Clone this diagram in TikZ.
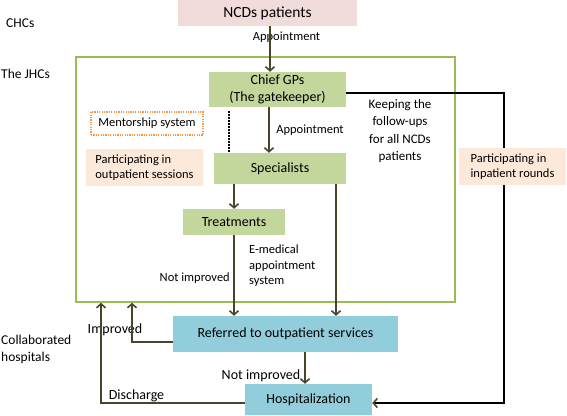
\documentclass[tikz,border=0pt]{standalone}
\usepackage{fontspec}
\setmainfont{Carlito}
\usetikzlibrary{positioning,arrows.meta}
\definecolor{gpgreen}{HTML}{C3D69B}
\definecolor{framegreen}{HTML}{9BBB59}
\definecolor{hospblue}{HTML}{92CDDC}
\definecolor{ncdpink}{HTML}{F2DCDB}
\definecolor{partpeach}{HTML}{FDE9D9}
\definecolor{mentorange}{HTML}{F79646}
\definecolor{arrowc}{HTML}{4A452A}

\begin{document}
\begin{tikzpicture}[x=1pt,y=-1pt,
  every node/.style={inner sep=0pt},
  gpbox/.style={fill=gpgreen,align=center,font=\fontsize{14}{17}\selectfont},
  hospbox/.style={fill=hospblue,align=center,font=\fontsize{14}{17}\selectfont},
  ncdbox/.style={fill=ncdpink,font=\fontsize{15.5}{18}\selectfont},
  partbox/.style={fill=partpeach,align=left,font=\fontsize{12.5}{15.5}\selectfont},
  mentbox/.style={draw=mentorange,line width=1.2pt,dash pattern=on 1.2pt off 1.2pt,font=\fontsize{12.5}{15.5}\selectfont},
  frame/.style={draw=framegreen,line width=1.5pt},
  lab/.style={font=\fontsize{12.5}{15.5}\selectfont},
  lablow/.style={font=\fontsize{14}{17}\selectfont},
  side/.style={font=\fontsize{13.5}{17}\selectfont},
  arr/.style={draw=arrowc,line width=1.6pt,-{Straight Barb[length=4pt,width=9pt]}},
  blk/.style={draw=black,line width=1.6pt,-{Straight Barb[length=4pt,width=9pt,color=arrowc]}}]
\useasboundingbox (0,0) rectangle (567,415);

\node[frame, minimum width=379pt, minimum height=245pt] (jhc) at (265.5,179.5) {};
\node[ncdbox, minimum width=179pt, minimum height=26pt] (ncd) at (267.5,13) {NCDs patients};
\node[gpbox, minimum width=137pt, minimum height=35pt] (gp) at (277.5,89.5) {Chief GPs\\(The gatekeeper)};
\node[gpbox, minimum width=132pt, minimum height=31pt] (spec) at (280,168.5) {Specialists};
\node[gpbox, minimum width=102pt, minimum height=26pt] (treat) at (234,222) {Treatments};
\node[hospbox, minimum width=225pt, minimum height=36pt] (ref) at (285.5,334) {Referred to outpatient services};
\node[hospbox, minimum width=127pt, minimum height=31pt] (hosp) at (308.5,399.5) {Hospitalization};
\node[mentbox, minimum width=112pt, minimum height=23pt] (ment) at (147,123.5) {Mentorship system};
\node[partbox, minimum width=117pt, minimum height=37pt] (outs) at (144.5,167.5) {Participating in\\outpatient sessions};

\node[side, anchor=west] (chc) at (6,23) {CHCs};
\node[side, anchor=west] (jhclab) at (1,74) {The JHCs};
\node[side, anchor=west, align=left] (hosplab) at (1,349) {Collaborated\\hospitals};

\node[lab] (app1) at (286.5,37) {Appointment};
\node[lab] (app2) at (310,130) {Appointment};
\node[lab, align=center, font=\fontsize{13}{17.5}\selectfont] (keep) at (400,131) {Keeping the\\follow-ups\\for all NCDs\\patients};
\node[lab, align=left, anchor=north west] (emed) at (249,245) {E-medical\\appointment\\system};
\node[lab, anchor=east] (notimp1) at (230,278) {Not improved};
\node[lablow] (imp) at (115,330) {Improved};
\node[lablow] (notimp2) at (261,376) {Not improved};
\node[lablow] (disch) at (136.5,396) {Discharge};

\coordinate (c0) at (270,0);
\coordinate (c1) at (269,0);
\coordinate (cd) at (229,0);
\coordinate (c2) at (336,0);
\coordinate (c3) at (305,0);
\coordinate (c4) at (132,0);
\coordinate (c5) at (101,0);
\coordinate (rx) at (504,0);

\draw[arr] (ncd.south -| c0) -- (gp.north -| c0);
\draw[arr] (gp.south -| c1) -- (spec.north -| c1);
\draw[line width=1.5pt, dash pattern=on 1.5pt off 1.5pt] (ment.north -| cd) -- (spec.north -| cd);
\draw[arr] (spec.south -| treat) -- (treat.north);
\draw[arr] (treat.south) -- (ref.north -| treat);
\draw[arr] (spec.south -| c2) -- (ref.north -| c2);
\draw[arr] (ref.south -| c3) -- (hosp.north -| c3);
\draw[arr] ([yshift=-8pt]ref.west) -| (jhc.south -| c4);
\draw[arr] ([yshift=-3.5pt]hosp.west) -| (jhc.south -| c5);
\draw[blk] ([yshift=-3.5pt]gp.east) -| ([yshift=-3.5pt]hosp.east -| rx) -- ([yshift=-3.5pt]hosp.east);

\node[partbox, minimum width=107pt, minimum height=37pt] (inr) at (512.5,166.5) {Participating in\\inpatient rounds};
\end{tikzpicture}
\end{document}
